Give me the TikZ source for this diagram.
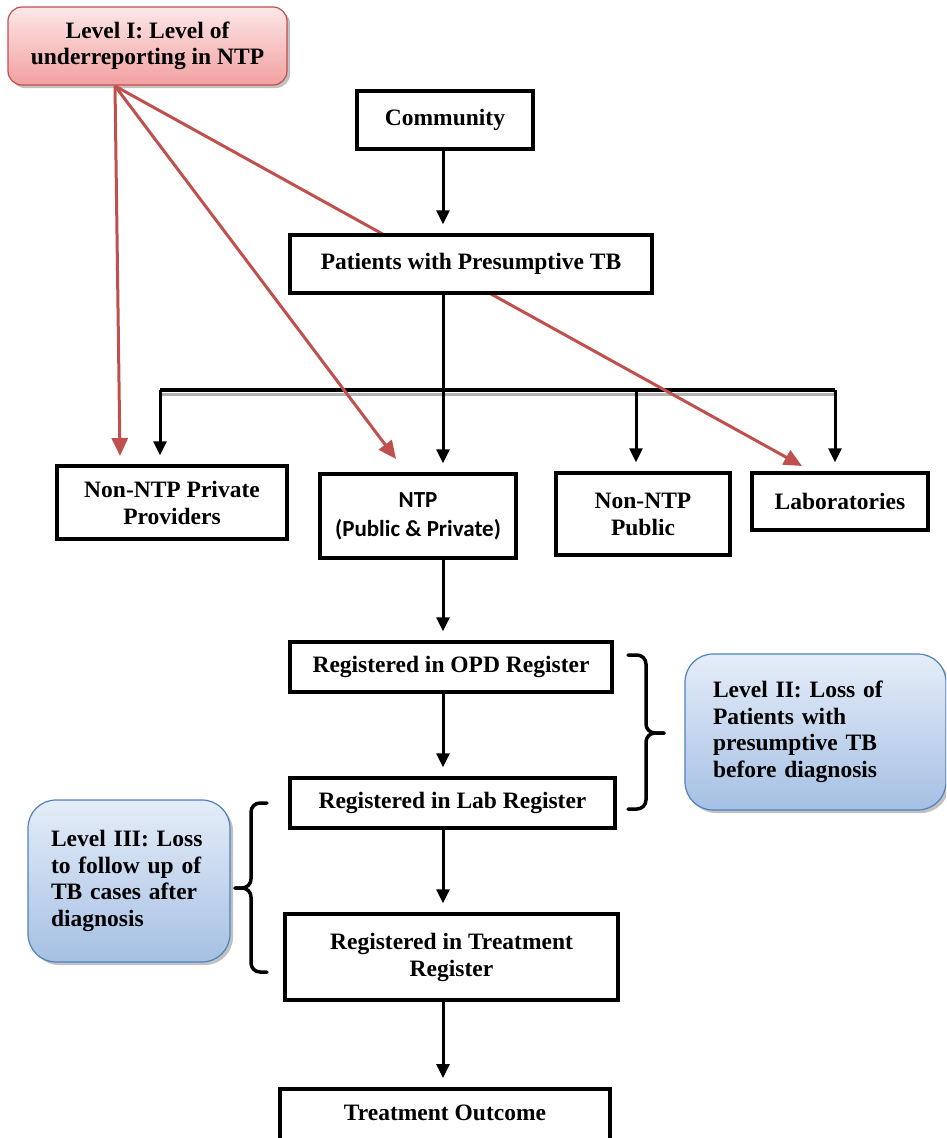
\documentclass[tikz,border=0pt]{standalone}
\usepackage{fontspec}
\setmainfont{Liberation Serif}
\newfontfamily\ntpfont{Carlito}
\frenchspacing
\usetikzlibrary{arrows.meta,shadows,calc}
\definecolor{redline}{RGB}{192,80,77}
\definecolor{pinktop}{RGB}{253,231,231}
\definecolor{pinkbot}{RGB}{242,160,160}
\definecolor{bluetop}{RGB}{229,237,248}
\definecolor{bluebot}{RGB}{165,192,228}
\definecolor{blueline}{RGB}{79,129,189}
\tikzset{
  stage/.style={draw, line width=3.5pt, fill=white, inner sep=0pt, align=center,
    font=\fontsize{23.5}{27}\selectfont\bfseries,
    drop shadow={shadow xshift=2pt, shadow yshift=-2pt, fill=black!30, opacity=.7}},
  level/.style={draw, line width=1.2pt, inner sep=0pt,
    font=\fontsize{23.5}{26.5}\selectfont\bfseries,
    drop shadow={shadow xshift=3pt, shadow yshift=-3pt, fill=black!35, opacity=.7}},
  flow/.style={line width=3pt, shorten >=9pt, -{Triangle[length=14pt,width=13pt]}},
  report/.style={redline, line width=3pt, -{Triangle[length=18pt,width=16pt]}},
  curly/.style={line width=3.5pt, rounded corners=9pt, line cap=round}
}
\begin{document}
\begin{tikzpicture}[x=1pt,y=-1pt]
    \useasboundingbox (0,0) rectangle (946,1138);
    \clip (0,0) rectangle (946,1138);
    % bus and junctions
    \coordinate (busL) at (160,390);
    \coordinate (trunk) at (443,390);
    \coordinate (busM) at (636,390);
    \coordinate (busR) at (835,390);
    \draw[black!30, line width=3pt] ($(busL)+(0,4)$) -- ($(busR)+(0,4)$);
    \draw[line width=3.5pt] (busL) -- (busR);
    % level I
    \node[level, draw=redline, top color=pinktop, bottom color=pinkbot, rounded corners=14pt,
          minimum width=279pt, minimum height=78pt, align=center] (lvlone) at (147.5,46)
          {Level I: Level of\\underreporting in NTP};
    \coordinate (lvlfoot) at (115,86);
    \coordinate (tipA) at (120,456);
    \coordinate (tipB) at (396,459);
    \coordinate (tipC) at (802,466);
    \draw[report] (lvlfoot) -- (tipA);
    \draw[report] (lvlfoot) -- (tipB);
    \draw[report] (lvlfoot) -- (tipC);
    % stages
    \node[stage, minimum width=176pt, minimum height=58pt] (community) at (445,120) {Community};
    \node[stage, minimum width=362pt, minimum height=58pt] (patients) at (471,264) {Patients with Presumptive TB};
    \node[stage, minimum width=230pt, minimum height=73pt] (nonpriv) at (172,502.5) {Non-NTP Private\\Providers};
    \node[stage, minimum width=196pt, minimum height=84pt, font=\fontsize{23}{29}\selectfont\ntpfont\bfseries] (ntp) at (418,516) {NTP\\(Public \& Private)};
    \node[stage, minimum width=174pt, minimum height=82pt] (nonpub) at (643,514) {Non-NTP\\Public};
    \node[stage, minimum width=176pt, minimum height=57pt] (labs) at (840,501.5) {Laboratories};
    \node[stage, minimum width=322pt, minimum height=50pt] (opd) at (451,667) {Registered in OPD Register};
    \node[stage, minimum width=325pt, minimum height=50pt] (lab) at (452.5,803) {Registered in Lab Register};
    \node[stage, minimum width=333pt, minimum height=86pt] (treat) at (451.5,957) {Registered in Treatment\\Register};
    \node[stage, anchor=north, minimum width=330pt, inner ysep=15pt, text height=17pt, text depth=45pt] (outcome) at (445,1087) {Treatment Outcome};
    % levels II and III
    \node[level, draw=blueline, top color=bluetop, bottom color=bluebot, rounded corners=28pt,
          minimum width=261pt, minimum height=156pt, text width=205pt, align=left] (lvltwo) at (815.5,732)
          {Level II: Loss of\\Patients with\\presumptive TB\\before diagnosis};
    \node[level, draw=blueline, top color=bluetop, bottom color=bluebot, rounded corners=28pt,
          minimum width=202pt, minimum height=162pt, text width=156pt, align=left] (lvlthree) at (129,881)
          {Level III: Loss\\to follow up of\\TB cases after\\diagnosis};
    % flow arrows
    \draw[flow] (community.south -| trunk) -- (patients.north -| trunk);
    \draw[flow] (patients.south -| trunk) -- (ntp.north -| trunk);
    \draw[flow] (busL) -- (busL |- nonpriv.north);
    \draw[flow] (busM) -- (busM |- nonpub.north);
    \draw[flow] (busR) -- (busR |- labs.north);
    \draw[flow] (ntp.south -| trunk) -- (opd.north -| trunk);
    \draw[flow] (opd.south -| trunk) -- (lab.north -| trunk);
    \draw[flow] (lab.south -| trunk) -- (treat.north -| trunk);
    \draw[flow] (treat.south -| trunk) -- (outcome.north -| trunk);
    % braces
    \draw[curly] (628,655) -| (646,733) -- (664,733);
    \draw[curly] (664,733) -| (646,809) -- (628,809);
    \draw[curly] (267,803) -| (251,888) -- (235,888);
    \draw[curly] (235,888) -| (251,972) -- (267,972);
\end{tikzpicture}
\end{document}
